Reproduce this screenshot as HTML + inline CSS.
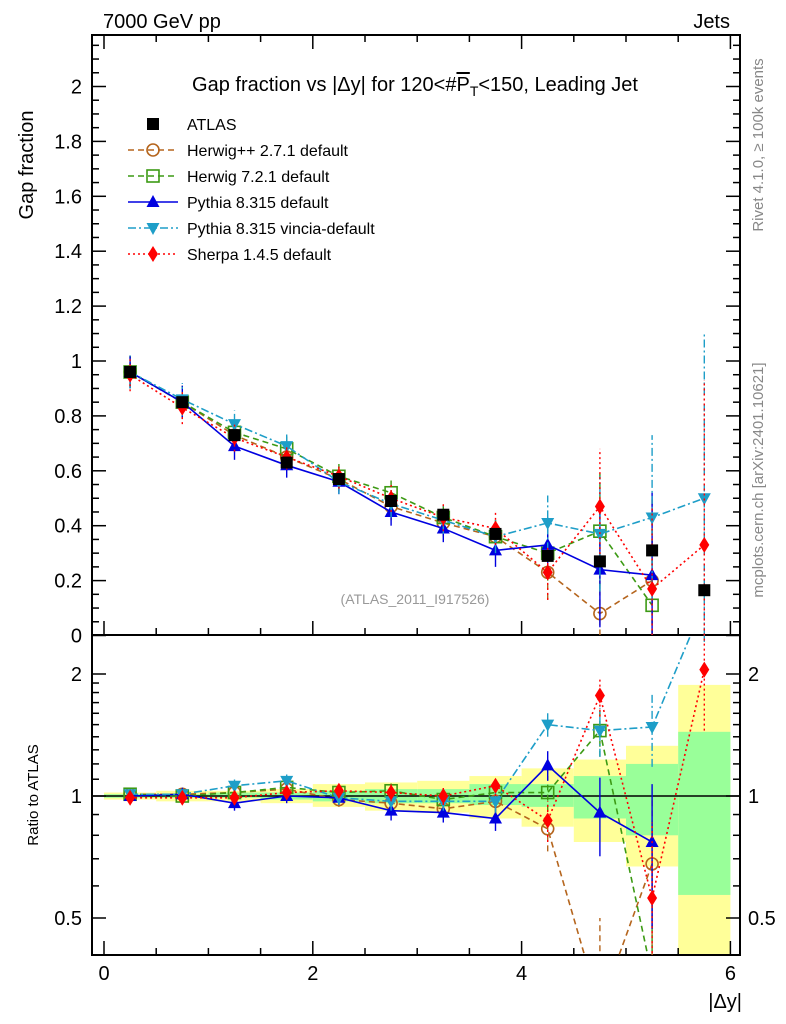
<!DOCTYPE html>
<html><head><meta charset="utf-8"><style>
html,body{margin:0;padding:0;background:#fff;width:786px;height:1024px;overflow:hidden;}
svg{display:block;font-family:"Liberation Sans",Arial,sans-serif;}
</style></head><body>
<svg id="chart" width="786" height="1024" viewBox="0 0 786 1024" xmlns="http://www.w3.org/2000/svg">
<g id="bands"></g>
<g id="axes"></g>
<g id="series"></g>
<g id="legend"></g>
<text x="103" y="28" font-size="20">7000 GeV pp</text>
<text x="730" y="28" font-size="20" text-anchor="end">Jets</text>
<text x="415" y="91" font-size="20" text-anchor="middle">Gap fraction vs |Δy| for 120&lt;#<tspan text-decoration="overline">P</tspan><tspan font-size="14" dy="5">T</tspan><tspan dy="-5">&lt;150, Leading Jet</tspan></text>
<text transform="translate(33,165) rotate(-90)" font-size="20" text-anchor="middle">Gap fraction</text>
<text transform="translate(38,795) rotate(-90)" font-size="15" text-anchor="middle">Ratio to ATLAS</text>
<text x="742" y="1008" font-size="20" text-anchor="end">|Δy|</text>
<text transform="translate(763,145) rotate(-90)" font-size="15" fill="#888" text-anchor="middle">Rivet 4.1.0, ≥ 100k events</text>
<text transform="translate(763,480) rotate(-90)" font-size="15" fill="#888" text-anchor="middle">mcplots.cern.ch [arXiv:2401.10621]</text>
<text x="415" y="604" font-size="14" fill="#999" text-anchor="middle">(ATLAS_2011_I917526)</text>
</svg>
<script>
const binCenters=[0.25,0.75,1.25,1.75,2.25,2.75,3.25,3.75,4.25,4.75,5.25,5.75];
const atlasVals=[0.96,0.85,0.73,0.63,0.57,0.49,0.44,0.37,0.29,0.27,0.31,0.165];
const herwigppVals=[0.96,0.85,0.73,0.65,0.57,0.47,0.41,0.36,0.23,0.08,0.20,null];
const herwig7Vals=[0.96,0.85,0.74,0.68,0.58,0.52,0.43,0.36,0.30,0.38,0.11,null];
const pythiaVals=[0.96,0.85,0.69,0.62,0.56,0.45,0.39,0.31,0.33,0.24,0.22,null];
const vinciaVals=[0.96,0.86,0.77,0.69,0.56,0.48,0.42,0.36,0.41,0.37,0.43,0.50];
const sherpaVals=[0.95,0.83,0.72,0.65,0.58,0.50,0.43,0.39,0.23,0.47,0.17,0.33];
const herwigppRatio=[1.01,1.01,1.02,1.04,0.98,0.96,0.93,0.97,0.83,0.30,0.68,null];
const herwig7Ratio=[1.01,1.0,1.02,1.05,1.02,1.03,0.98,1.02,1.02,1.45,0.36,null];
const pythiaRatio=[1.0,1.01,0.96,1.0,0.99,0.92,0.91,0.88,1.19,0.91,0.77,null];
const vinciaRatio=[1.01,1.01,1.06,1.09,0.99,0.97,0.97,0.97,1.5,1.45,1.48,3.0];
const sherpaRatio=[0.99,0.99,0.99,1.02,1.03,1.02,1.0,1.06,0.87,1.77,0.56,2.05];
const mcErr=[0.03,0.03,0.04,0.04,0.04,0.05,0.05,0.06,0.1,0.2,0.3,0.6];
const mcErrAbs=[0.06,0.06,0.05,0.045,0.045,0.05,0.05,0.06,0.1,0.21,0.3,0.6];
const bandInnerUp=[1.01,1.01,1.02,1.02,1.03,1.04,1.04,1.07,1.07,1.12,1.2,1.44];
const bandInnerLo=[0.99,0.99,0.99,0.98,0.97,0.96,0.96,0.95,0.94,0.88,0.8,0.57];
const bandOuterUp=[1.02,1.03,1.03,1.04,1.07,1.08,1.09,1.12,1.17,1.23,1.33,1.88];
const bandOuterLo=[0.98,0.97,0.97,0.96,0.94,0.92,0.91,0.88,0.84,0.77,0.67,0.40];
const xTicks=[0,2,4,6];
const yTicks=[0,0.2,0.4,0.6,0.8,1,1.2,1.4,1.6,1.8,2];
const rTicks=[0.5,1,2];

const L=92,R=740,T=35,MID=635,B=955;
const X=v=>104+104.4*v;
const Y=v=>635.5-274.5*v;
const RY=v=>796-122*Math.log2(v);
const NS="http://www.w3.org/2000/svg";
function mk(parent,tag,attrs){const e=document.createElementNS(NS,tag);for(const k in attrs)e.setAttribute(k,attrs[k]);document.getElementById(parent).appendChild(e);return e;}

binCenters.forEach((c,i)=>{
 const y1=Math.max(RY(bandOuterUp[i]),MID),y2=Math.min(RY(bandOuterLo[i]),B);
 let e=mk('bands','rect',{x:X(c-0.25),y:y1,width:X(0.5)-X(0),height:y2-y1,fill:'#ffff99'});
 
 
 const g1=RY(bandInnerUp[i]),g2=RY(bandInnerLo[i]);
 e=mk('bands','rect',{x:X(c-0.25),y:g1,width:X(0.5)-X(0),height:g2-g1,fill:'#99ff99'});
 
 
});
[[T,MID],[MID,B]].forEach(([a,b])=>{
 const e=mk('axes','rect',{x:L,y:a,width:R-L,height:b-a,fill:'none',stroke:'#000','stroke-width':2});
 
 
});
let ln=mk('axes','line',{x1:L,x2:R,y1:RY(1),y2:RY(1),stroke:'#000','stroke-width':1.5});


for(let v=0;v<=6.01;v+=0.5){
 const maj=Math.abs(v-Math.round(v/2)*2)<1e-6, len=maj?14:7;
 [[MID,-1],[B,-1],[T,1]].forEach(([y,d])=>{mk('axes','line',{x1:X(v),x2:X(v),y1:y,y2:y+d*len,stroke:'#000','stroke-width':1.5});});
}
xTicks.forEach(v=>{const t=mk('axes','text',{x:X(v),y:980,'font-size':20,'text-anchor':'middle'});t.textContent=v;
 
 });
for(let v=0;v<=2.16;v+=0.05){
 const maj=Math.abs(v*5-Math.round(v*5))<1e-6,len=maj?14:7;const y=Y(v);if(y<T)continue;
 mk('axes','line',{x1:L,x2:L+len,y1:y,y2:y,stroke:'#000','stroke-width':1.5});
 mk('axes','line',{x1:R,x2:R-len,y1:y,y2:y,stroke:'#000','stroke-width':1.5});
}
yTicks.forEach(v=>{const t=mk('axes','text',{x:82,y:Y(v)+7,'font-size':20,'text-anchor':'end'});t.textContent=v;
 
 });
[0.5,0.6,0.7,0.8,0.9,1,1.1,1.2,1.3,1.4,1.5,1.6,1.7,1.8,1.9,2].forEach(v=>{
 const maj=rTicks.includes(v),len=maj?14:7,y=RY(v);
 mk('axes','line',{x1:L,x2:L+len,y1:y,y2:y,stroke:'#000','stroke-width':1.5});
 mk('axes','line',{x1:R,x2:R-len,y1:y,y2:y,stroke:'#000','stroke-width':1.5});
});
rTicks.forEach(v=>{[[82,'end'],[748,'start']].forEach(([x,a])=>{const t=mk('axes','text',{x:x,y:RY(v)+7,'font-size':20,'text-anchor':a});t.textContent=v;
 
 });});

function marker(g,type,x,y,col){
 const s=6;
 if(type==='sq')return mk(g,'rect',{x:x-s,y:y-s,width:2*s,height:2*s,fill:'#000'});
 if(type==='osq')return mk(g,'rect',{x:x-s,y:y-s,width:2*s,height:2*s,fill:'none',stroke:col,'stroke-width':1.6});
 if(type==='oc')return mk(g,'circle',{cx:x,cy:y,r:s,fill:'none',stroke:col,'stroke-width':1.6});
 if(type==='tu')return mk(g,'polygon',{points:`${x},${y-7} ${x-6.5},${y+5} ${x+6.5},${y+5}`,fill:col});
 if(type==='td')return mk(g,'polygon',{points:`${x},${y+7} ${x-6.5},${y-5} ${x+6.5},${y-5}`,fill:col});
 if(type==='dm')return mk(g,'polygon',{points:`${x},${y-8} ${x-5},${y} ${x},${y+8} ${x+5},${y}`,fill:col});
}
const seriesDefs=[
 {name:'herwigpp',vals:herwigppVals,ratio:herwigppRatio,col:'#b5651d',dash:'6,4',m:'oc',label:'Herwig++ 2.7.1 default'},
 {name:'herwig7',vals:herwig7Vals,ratio:herwig7Ratio,col:'#3c9a14',dash:'6,4',m:'osq',label:'Herwig 7.2.1 default'},
 {name:'pythia',vals:pythiaVals,ratio:pythiaRatio,col:'#0000e0',dash:'',m:'tu',label:'Pythia 8.315 default'},
 {name:'vincia',vals:vinciaVals,ratio:vinciaRatio,col:'#1e9ec8',dash:'8,3,2,3',m:'td',label:'Pythia 8.315 vincia-default'},
 {name:'sherpa',vals:sherpaVals,ratio:sherpaRatio,col:'#ff0000',dash:'2,3',m:'dm',label:'Sherpa 1.4.5 default'}
];
const clip=mk('series','clipPath',{id:'cu'});const cr=document.createElementNS(NS,'rect');
cr.setAttribute('x',L);cr.setAttribute('y',T);cr.setAttribute('width',R-L);cr.setAttribute('height',MID-T);clip.appendChild(cr);
const clip2=mk('series','clipPath',{id:'cl'});const cr2=document.createElementNS(NS,'rect');
cr2.setAttribute('x',L);cr2.setAttribute('y',MID);cr2.setAttribute('width',R-L);cr2.setAttribute('height',B-MID);clip2.appendChild(cr2);
mk('series','g',{'clip-path':'url(#cu)',id:'gu'});
mk('series','g',{'clip-path':'url(#cl)',id:'gl'});

seriesDefs.forEach(s=>{
 [['gu',s.vals,Y,(v,i)=>[Math.max(0,v-mcErrAbs[i]),v+mcErrAbs[i]]],['gl',s.ratio,RY,(v,i)=>[Math.max(0.05,v-mcErr[i]),v+mcErr[i]]]].forEach(([g,arr,f,ef])=>{
  const pts=[];arr.forEach((v,i)=>{if(v!==null)pts.push(X(binCenters[i])+','+f(v));});
  const p=mk(g,'polyline',{points:pts.join(' '),fill:'none',stroke:s.col,'stroke-width':1.6,'stroke-dasharray':s.dash});
  
  
  arr.forEach((v,i)=>{if(v===null)return;const x=X(binCenters[i]);const [lo,hi]=ef(v,i);
   mk(g,'line',{x1:x,x2:x,y1:f(lo),y2:f(hi),stroke:s.col,'stroke-width':1.4,'stroke-dasharray':s.dash});
   const m=marker(g,s.m,x,f(v),s.col);
   
   
  });
 });
});
atlasVals.forEach((v,i)=>{const m=marker('gu','sq',X(binCenters[i]),Y(v),'#000');
 
 });

const legItems=[{m:'sq',col:'#000',label:'ATLAS',dash:null}].concat(seriesDefs.map(s=>({m:s.m,col:s.col,label:s.label,dash:s.dash})));
legItems.forEach((it,i)=>{const y=124+26*i;
 if(it.dash!==null)mk('legend','line',{x1:128,x2:178,y1:y,y2:y,stroke:it.col,'stroke-width':1.6,'stroke-dasharray':it.dash});
 marker('legend',it.m,153,y,it.col);
 const t=mk('legend','text',{x:187,y:y+6,'font-size':16});t.textContent=it.label;
 
 
});
</script>
</body></html>
